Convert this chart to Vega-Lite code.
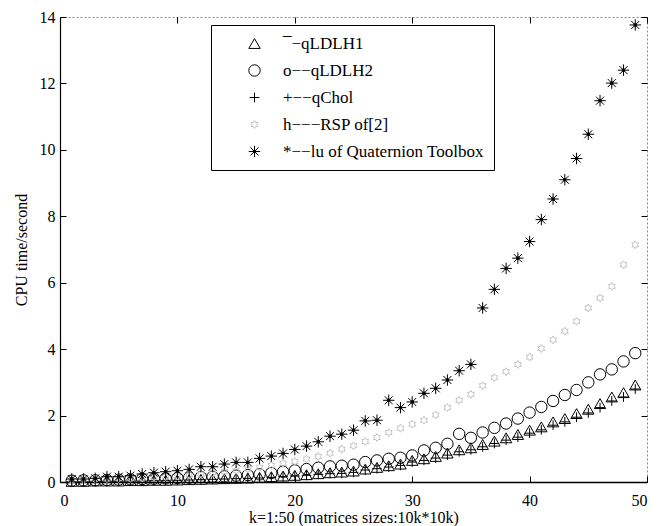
{
 "$schema": "https://vega.github.io/schema/vega-lite/v6.json",
 "width": 587, "height": 465,
 "autosize": "none",
 "padding": {"left": 60, "top": 17, "right": 16, "bottom": 44},
 "background": "white",
 "config": {
  "view": {"stroke": "#888", "strokeDash": [2, 2]},
  "font": "Liberation Serif",
  "axis": {"labelFont": "Liberation Serif", "titleFont": "Liberation Serif", "labelFontSize": 16, "titleFontSize": 16, "titleFontWeight": "normal", "labelColor": "black", "titleColor": "black", "tickColor": "black", "domainColor": "black", "grid": false}
 },
 "data": {"values": [
{"k":1,"s":"a","t":0.02},{"k":2,"s":"a","t":0.02},{"k":3,"s":"a","t":0.03},{"k":4,"s":"a","t":0.03},{"k":5,"s":"a","t":0.03},{"k":6,"s":"a","t":0.04},{"k":7,"s":"a","t":0.04},{"k":8,"s":"a","t":0.05},{"k":9,"s":"a","t":0.05},{"k":10,"s":"a","t":0.06},
{"k":11,"s":"a","t":0.07},{"k":12,"s":"a","t":0.08},{"k":13,"s":"a","t":0.09},{"k":14,"s":"a","t":0.1},{"k":15,"s":"a","t":0.11},{"k":16,"s":"a","t":0.12},{"k":17,"s":"a","t":0.14},{"k":18,"s":"a","t":0.16},{"k":19,"s":"a","t":0.18},{"k":20,"s":"a","t":0.2},
{"k":21,"s":"a","t":0.22},{"k":22,"s":"a","t":0.25},{"k":23,"s":"a","t":0.28},{"k":24,"s":"a","t":0.3},{"k":25,"s":"a","t":0.33},{"k":26,"s":"a","t":0.39},{"k":27,"s":"a","t":0.44},{"k":28,"s":"a","t":0.49},{"k":29,"s":"a","t":0.54},{"k":30,"s":"a","t":0.65},
{"k":31,"s":"a","t":0.7},{"k":32,"s":"a","t":0.77},{"k":33,"s":"a","t":0.87},{"k":34,"s":"a","t":0.97},{"k":35,"s":"a","t":1.03},{"k":36,"s":"a","t":1.13},{"k":37,"s":"a","t":1.23},{"k":38,"s":"a","t":1.33},{"k":39,"s":"a","t":1.43},{"k":40,"s":"a","t":1.56},
{"k":41,"s":"a","t":1.66},{"k":42,"s":"a","t":1.81},{"k":43,"s":"a","t":1.91},{"k":44,"s":"a","t":2.06},{"k":45,"s":"a","t":2.19},{"k":46,"s":"a","t":2.36},{"k":47,"s":"a","t":2.56},{"k":48,"s":"a","t":2.69},{"k":49,"s":"a","t":2.92},
{"k":1,"s":"b","t":0.04},{"k":2,"s":"b","t":0.05},{"k":3,"s":"b","t":0.05},{"k":4,"s":"b","t":0.06},{"k":5,"s":"b","t":0.07},{"k":6,"s":"b","t":0.08},{"k":7,"s":"b","t":0.09},{"k":8,"s":"b","t":0.1},{"k":9,"s":"b","t":0.11},{"k":10,"s":"b","t":0.12},
{"k":11,"s":"b","t":0.13},{"k":12,"s":"b","t":0.15},{"k":13,"s":"b","t":0.16},{"k":14,"s":"b","t":0.17},{"k":15,"s":"b","t":0.19},{"k":16,"s":"b","t":0.21},{"k":17,"s":"b","t":0.23},{"k":18,"s":"b","t":0.27},{"k":19,"s":"b","t":0.31},{"k":20,"s":"b","t":0.35},
{"k":21,"s":"b","t":0.39},{"k":22,"s":"b","t":0.43},{"k":23,"s":"b","t":0.47},{"k":24,"s":"b","t":0.49},{"k":25,"s":"b","t":0.52},{"k":26,"s":"b","t":0.6},{"k":27,"s":"b","t":0.65},{"k":28,"s":"b","t":0.7},{"k":29,"s":"b","t":0.73},{"k":30,"s":"b","t":0.8},
{"k":31,"s":"b","t":0.95},{"k":32,"s":"b","t":1.03},{"k":33,"s":"b","t":1.15},{"k":34,"s":"b","t":1.45},{"k":35,"s":"b","t":1.33},{"k":36,"s":"b","t":1.49},{"k":37,"s":"b","t":1.63},{"k":38,"s":"b","t":1.76},{"k":39,"s":"b","t":1.91},{"k":40,"s":"b","t":2.09},
{"k":41,"s":"b","t":2.26},{"k":42,"s":"b","t":2.44},{"k":43,"s":"b","t":2.62},{"k":44,"s":"b","t":2.77},{"k":45,"s":"b","t":3.0},{"k":46,"s":"b","t":3.24},{"k":47,"s":"b","t":3.39},{"k":48,"s":"b","t":3.63},{"k":49,"s":"b","t":3.88},
{"k":1,"s":"c","t":0.01},{"k":2,"s":"c","t":0.01},{"k":3,"s":"c","t":0.02},{"k":4,"s":"c","t":0.02},{"k":5,"s":"c","t":0.02},{"k":6,"s":"c","t":0.03},{"k":7,"s":"c","t":0.03},{"k":8,"s":"c","t":0.04},{"k":9,"s":"c","t":0.04},{"k":10,"s":"c","t":0.05},
{"k":11,"s":"c","t":0.06},{"k":12,"s":"c","t":0.07},{"k":13,"s":"c","t":0.08},{"k":14,"s":"c","t":0.09},{"k":15,"s":"c","t":0.1},{"k":16,"s":"c","t":0.11},{"k":17,"s":"c","t":0.12},{"k":18,"s":"c","t":0.14},{"k":19,"s":"c","t":0.16},{"k":20,"s":"c","t":0.18},
{"k":21,"s":"c","t":0.2},{"k":22,"s":"c","t":0.23},{"k":23,"s":"c","t":0.25},{"k":24,"s":"c","t":0.26},{"k":25,"s":"c","t":0.29},{"k":26,"s":"c","t":0.36},{"k":27,"s":"c","t":0.4},{"k":28,"s":"c","t":0.45},{"k":29,"s":"c","t":0.5},{"k":30,"s":"c","t":0.6},
{"k":31,"s":"c","t":0.65},{"k":32,"s":"c","t":0.72},{"k":33,"s":"c","t":0.81},{"k":34,"s":"c","t":0.91},{"k":35,"s":"c","t":0.97},{"k":36,"s":"c","t":1.06},{"k":37,"s":"c","t":1.16},{"k":38,"s":"c","t":1.26},{"k":39,"s":"c","t":1.35},{"k":40,"s":"c","t":1.47},
{"k":41,"s":"c","t":1.57},{"k":42,"s":"c","t":1.71},{"k":43,"s":"c","t":1.81},{"k":44,"s":"c","t":1.95},{"k":45,"s":"c","t":2.08},{"k":46,"s":"c","t":2.24},{"k":47,"s":"c","t":2.44},{"k":48,"s":"c","t":2.56},{"k":49,"s":"c","t":2.8},
{"k":1,"s":"d","t":0.06},{"k":2,"s":"d","t":0.07},{"k":3,"s":"d","t":0.08},{"k":4,"s":"d","t":0.09},{"k":5,"s":"d","t":0.1},{"k":6,"s":"d","t":0.11},{"k":7,"s":"d","t":0.12},{"k":8,"s":"d","t":0.14},{"k":9,"s":"d","t":0.16},{"k":10,"s":"d","t":0.18},
{"k":11,"s":"d","t":0.21},{"k":12,"s":"d","t":0.24},{"k":13,"s":"d","t":0.27},{"k":14,"s":"d","t":0.31},{"k":15,"s":"d","t":0.35},{"k":16,"s":"d","t":0.39},{"k":17,"s":"d","t":0.44},{"k":18,"s":"d","t":0.5},{"k":19,"s":"d","t":0.56},{"k":20,"s":"d","t":0.62},
{"k":21,"s":"d","t":0.69},{"k":22,"s":"d","t":0.77},{"k":23,"s":"d","t":0.87},{"k":24,"s":"d","t":0.99},{"k":25,"s":"d","t":1.09},{"k":26,"s":"d","t":1.22},{"k":27,"s":"d","t":1.34},{"k":28,"s":"d","t":1.49},{"k":29,"s":"d","t":1.62},{"k":30,"s":"d","t":1.74},
{"k":31,"s":"d","t":1.86},{"k":32,"s":"d","t":2.02},{"k":33,"s":"d","t":2.24},{"k":34,"s":"d","t":2.46},{"k":35,"s":"d","t":2.64},{"k":36,"s":"d","t":2.9},{"k":37,"s":"d","t":3.14},{"k":38,"s":"d","t":3.32},{"k":39,"s":"d","t":3.54},{"k":40,"s":"d","t":3.76},
{"k":41,"s":"d","t":4.02},{"k":42,"s":"d","t":4.28},{"k":43,"s":"d","t":4.54},{"k":44,"s":"d","t":4.84},{"k":45,"s":"d","t":5.24},{"k":46,"s":"d","t":5.54},{"k":47,"s":"d","t":5.89},{"k":48,"s":"d","t":6.54},{"k":49,"s":"d","t":7.14},
{"k":1,"s":"e","t":0.09},{"k":2,"s":"e","t":0.09},{"k":3,"s":"e","t":0.11},{"k":4,"s":"e","t":0.16},{"k":5,"s":"e","t":0.16},{"k":6,"s":"e","t":0.19},{"k":7,"s":"e","t":0.24},{"k":8,"s":"e","t":0.28},{"k":9,"s":"e","t":0.31},{"k":10,"s":"e","t":0.34},
{"k":11,"s":"e","t":0.38},{"k":12,"s":"e","t":0.46},{"k":13,"s":"e","t":0.46},{"k":14,"s":"e","t":0.54},{"k":15,"s":"e","t":0.59},{"k":16,"s":"e","t":0.59},{"k":17,"s":"e","t":0.71},{"k":18,"s":"e","t":0.78},{"k":19,"s":"e","t":0.86},{"k":20,"s":"e","t":0.98},
{"k":21,"s":"e","t":1.08},{"k":22,"s":"e","t":1.21},{"k":23,"s":"e","t":1.38},{"k":24,"s":"e","t":1.44},{"k":25,"s":"e","t":1.56},{"k":26,"s":"e","t":1.84},{"k":27,"s":"e","t":1.86},{"k":28,"s":"e","t":2.46},{"k":29,"s":"e","t":2.24},{"k":30,"s":"e","t":2.41},
{"k":31,"s":"e","t":2.67},{"k":32,"s":"e","t":2.82},{"k":33,"s":"e","t":3.07},{"k":34,"s":"e","t":3.35},{"k":35,"s":"e","t":3.54},{"k":36,"s":"e","t":5.24},{"k":37,"s":"e","t":5.8},{"k":38,"s":"e","t":6.43},{"k":39,"s":"e","t":6.74},{"k":40,"s":"e","t":7.24},
{"k":41,"s":"e","t":7.9},{"k":42,"s":"e","t":8.52},{"k":43,"s":"e","t":9.1},{"k":44,"s":"e","t":9.74},{"k":45,"s":"e","t":10.47},{"k":46,"s":"e","t":11.48},{"k":47,"s":"e","t":12.01},{"k":48,"s":"e","t":12.4},{"k":49,"s":"e","t":13.76}
 ]},
 "resolve": {"axis": {"x": "independent", "y": "independent"}},
 "layer": [
  {
   "mark": {"type": "point", "filled": false, "strokeWidth": 1, "size": 130, "opacity": 1},
   "encoding": {
    "x": {"field": "k", "type": "quantitative", "scale": {"domain": [0, 50], "nice": false},
          "axis": {"values": [0, 10, 20, 30, 40, 50], "tickSize": -6, "labelPadding": 16, "domainWidth": 1.5, "title": "k=1:50 (matrices sizes:10k*10k)", "titlePadding": 1}},
    "y": {"field": "t", "type": "quantitative", "scale": {"domain": [0, 14], "nice": false},
          "axis": {"values": [0, 2, 4, 6, 8, 10, 12, 14], "tickSize": -6, "labelPadding": 11, "domainWidth": 1.2, "title": "CPU time/second", "titlePadding": 10}},
    "shape": {"field": "s", "type": "nominal",
      "scale": {"domain": ["a", "b", "c", "d", "e"], "range": ["triangle-up", "circle", "M-0.85,0L0.85,0M0,-0.85L0,0.85", "M0,-0.7L0.2,-0.35L0.6,-0.35L0.4,0L0.6,0.35L0.2,0.35L0,0.7L-0.2,0.35L-0.6,0.35L-0.4,0L-0.6,-0.35L-0.2,-0.35Z", "M-1,0L1,0M0,-1L0,1M-0.7,-0.7L0.7,0.7M-0.7,0.7L0.7,-0.7M-0.2,-0.2L0.2,-0.2L0.2,0.2L-0.2,0.2Z"]},
      "legend": {"title": null, "orient": "none", "legendX": 151, "legendY": 8, "direction": "vertical",
        "fillColor": "white", "strokeColor": "black", "padding": 10, "labelFont": "Liberation Serif", "labelFontSize": 17, "labelColor": "black", "labelLimit": 0,
        "symbolSize": 130, "symbolStrokeWidth": 1, "symbolOffset": 25, "labelOffset": 20, "rowPadding": 9,
        "labelExpr": "datum.label == 'a' ? '¯−qLDLH1' : datum.label == 'b' ? 'o−−qLDLH2' : datum.label == 'c' ? '+−−qChol' : datum.label == 'd' ? 'h−−−RSP of[2]' : '*−−lu of Quaternion Toolbox'"}},
    "stroke": {"field": "s", "type": "nominal",
      "scale": {"domain": ["a", "b", "c", "d", "e"], "range": ["#000000", "#000000", "#000000", "#c4c4c4", "#000000"]},
      "legend": {"title": null, "orient": "none", "legendX": 151, "legendY": 8, "direction": "vertical",
        "fillColor": "white", "strokeColor": "black", "padding": 10, "labelFont": "Liberation Serif", "labelFontSize": 17, "labelColor": "black", "labelLimit": 0,
        "symbolSize": 130, "symbolStrokeWidth": 1, "symbolOffset": 25, "labelOffset": 20, "rowPadding": 9,
        "labelExpr": "datum.label == 'a' ? '¯−qLDLH1' : datum.label == 'b' ? 'o−−qLDLH2' : datum.label == 'c' ? '+−−qChol' : datum.label == 'd' ? 'h−−−RSP of[2]' : '*−−lu of Quaternion Toolbox'"}}
   }
  },
  {
   "mark": {"type": "point", "opacity": 0},
   "encoding": {
    "x": {"field": "k", "type": "quantitative", "axis": {"orient": "top", "values": [0, 10, 20, 30, 40, 50], "tickSize": -6, "labels": false, "domain": false, "title": null}},
    "y": {"field": "t", "type": "quantitative", "axis": {"orient": "right", "values": [0, 2, 4, 6, 8, 10, 12, 14], "tickSize": -6, "labels": false, "domain": false, "title": null}}
   }
  }
 ]
}
